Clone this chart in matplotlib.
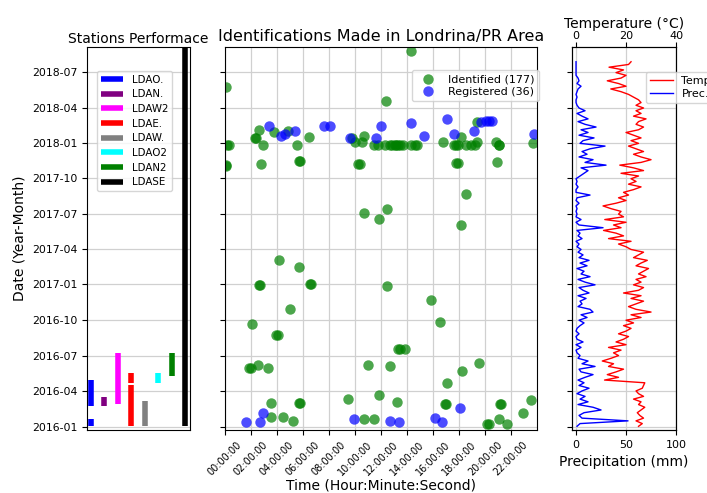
import numpy as np
import pandas as pd
import matplotlib
matplotlib.use('Agg')
import matplotlib.pyplot as plt
import matplotlib.dates as mdates
from matplotlib.ticker import FuncFormatter

# --- STATIONS (periods of operation) ---
stations = ['LDAO.', 'LDAN.', 'LDAW2', 'LDAE.', 'LDAW.', 'LDAO2', 'LDAN2', 'LDASE']
station_colors = ['blue', 'purple', 'magenta', 'red', 'gray', 'cyan', 'green', 'black']
station_periods = [
    [('2016-01-02', '2016-01-20'), ('2016-02-24', '2016-04-30')],
    [('2016-02-24', '2016-03-18')],
    [('2016-02-28', '2016-07-09')],
    [('2016-01-02', '2016-04-17'), ('2016-04-23', '2016-05-17')],
    [('2016-01-02', '2016-03-07')],
    [('2016-04-23', '2016-05-19')],
    [('2016-05-10', '2016-07-09')],
    [('2016-01-02', '2018-09-30')],
]

# --- IDENTIFICATIONS (date, time of day) ---
n_identified = 177
n_registered = 36
ident_dates = [
    '2018-05-23', '2017-12-27', '2017-12-27', '2017-11-03', '2017-11-05',
    '2018-01-14', '2018-01-14', '2018-02-02', '2017-12-26', '2017-11-08',
    '2018-01-29', '2018-01-31', '2017-12-26', '2017-11-14', '2017-11-14',
    '2018-01-16', '2018-01-14', '2018-01-02', '2018-01-02', '2018-01-18',
    '2017-11-07', '2017-11-07', '2017-12-26', '2017-07-04', '2017-06-18',
    '2018-08-24', '2018-04-18', '2017-12-27', '2017-12-27', '2017-12-27',
    '2017-12-27', '2017-12-27', '2017-12-27', '2017-12-27', '2017-12-27',
    '2017-12-27', '2017-12-27', '2017-12-27', '2017-12-27', '2018-01-02',
    '2017-12-26', '2017-12-26', '2017-12-26', '2018-01-16', '2017-12-27',
    '2017-12-27', '2017-12-27', '2018-01-02', '2018-02-22', '2018-01-02',
    '2017-12-25', '2017-12-25', '2017-11-13', '2017-11-10', '2017-11-10',
    '2017-08-21', '2017-07-14', '2017-06-03', '2017-12-30',
    '2017-03-05', '2017-02-15', '2016-12-30', '2016-12-30', '2017-01-03',
    '2017-01-03', '2016-10-29', '2016-09-20', '2016-08-23', '2016-08-23',
    '2016-05-30', '2016-05-30', '2016-06-07', '2016-05-31', '2016-03-01',
    '2016-03-01', '2016-03-01', '2016-01-26', '2016-01-26', '2016-01-15',
    '2016-03-13', '2016-06-09', '2016-03-23', '2016-01-21', '2016-01-21',
    '2016-12-29', '2016-11-21', '2016-09-27', '2016-07-19', '2016-07-19',
    '2016-07-19', '2016-06-06', '2016-03-04', '2016-04-23', '2016-05-24',
    '2016-06-13', '2016-02-28', '2016-02-28', '2016-02-28', '2016-02-28',
    '2016-01-07', '2016-01-07', '2016-01-20', '2016-01-09', '2016-02-05',
    '2016-03-10',
]
ident_times = [
    '00:05', '00:10', '00:18', '00:03', '00:03',
    '02:18', '02:24', '02:35', '02:55', '02:46',
    '03:44', '04:51', '05:32', '05:40', '05:48',
    '06:29', '09:46', '10:02', '10:32', '10:43',
    '10:14', '10:22', '11:26', '10:43', '11:52',
    '14:17', '12:25', '11:46', '12:17', '12:40',
    '12:50', '13:03', '13:10', '13:19', '13:30',
    '13:41', '14:20', '14:35', '14:47', '16:46',
    '17:35', '17:48', '17:55', '18:08', '18:34',
    '18:54', '19:12', '19:25', '19:25', '20:52',
    '21:03', '21:06', '20:57', '17:48', '17:54',
    '18:34', '12:28', '18:11', '23:41',
    '04:11', '05:40', '02:37', '02:43', '06:31',
    '06:37', '04:58', '02:03', '03:57', '04:03',
    '01:52', '02:02', '02:32', '03:17', '03:34',
    '05:40', '05:47', '03:34', '04:26', '05:13',
    '09:28', '10:58', '11:49', '10:43', '11:26',
    '12:28', '15:52', '16:34', '13:20', '13:26',
    '13:49', '12:40', '13:14', '17:06', '18:15',
    '19:31', '16:54', '17:00', '21:08', '21:14',
    '20:11', '20:17', '21:03', '21:43', '22:55',
    '23:34',
]
reg_dates = [
    '2018-02-13', '2018-01-19', '2018-01-23', '2018-01-31', '2018-02-13',
    '2018-02-13', '2018-01-14', '2018-01-14', '2018-02-13', '2018-02-21',
    '2018-01-19', '2018-03-02', '2018-01-23', '2018-01-31', '2018-02-24',
    '2018-02-25', '2018-02-25', '2018-02-25', '2018-01-23',
    '2016-01-13', '2016-01-13', '2016-02-06', '2016-01-21', '2016-01-15',
    '2016-01-13', '2016-01-23', '2016-01-13', '2016-02-18',
]
reg_times = [
    '03:25', '04:19', '04:35', '05:22', '07:35',
    '08:03', '09:35', '11:37', '12:02', '14:17',
    '15:17', '17:05', '17:37', '19:08', '19:43',
    '20:03', '20:19', '20:34', '23:46',
    '01:38', '02:40', '02:55', '09:57', '12:40',
    '13:22', '16:11', '16:43', '18:03',
]

# --- WEATHER (weekly readings from 2016-01-02) ---
weather_start = '2016-01-02'
temperature = [
    25, 26.5, 24, 27, 25.5, 24.5, 26, 27.5,
    25, 26, 23, 27, 25, 24, 26.5, 27, 27.5,
    11.4, 17, 12.5, 16, 19, 13, 15, 10.5, 14, 17,
    15, 18, 13, 20, 16, 19, 21, 17, 20, 22, 19,
    23, 20, 26, 22, 30, 24, 21,
    24, 27, 22, 26, 19, 25, 27, 23,
    26, 24, 28, 25, 27, 29, 24, 26, 28.5, 23, 25, 27, 22,
    20, 17, 22, 13, 19, 16, 11, 18, 15, 20, 11.5, 19, 17,
    18, 14, 10.8, 16, 20, 17, 21, 19, 23, 26, 21, 24, 22, 25,
    18, 27, 23, 17.5, 26, 30,
    26, 23, 27, 24, 21, 25,
    22, 26, 23, 20, 25, 27, 24,
    25, 28, 23, 26, 24, 27,
    24, 26, 25, 23,
    21, 18, 13.9, 20, 17, 12.5,
    18, 20, 16, 19, 13.2, 21, 22,
]
precipitation = [
    1, 4, 52, 6, 3, 8, 25, 17,
    2, 12, 4, 9, 1, 6, 13, 3, 8,
    2, 9, 17, 5, 3, 19, 6, 12, 2, 4,
    1, 0, 5, 0, 7, 1, 0, 3, 0, 1, 4,
    8, 3, 11, 5, 17, 14, 2,
    6, 4, 10, 2, 13, 7, 3, 19,
    9, 2, 14, 5, 8, 1, 11, 4, 13, 3, 7, 2, 5,
    1, 3, 0, 6, 2, 4, 1, 27, 3, 0, 5, 0, 1,
    0, 1, 0, 3, 0, 1, 14, 0, 0, 2, 0, 1, 0, 4,
    8, 12, 5, 30, 9, 17,
    3, 11, 6, 14, 29, 4,
    7, 18, 3, 12, 5, 20, 9,
    2, 12, 6, 1, 9, 3,
    1, 0, 0, 1,
    0, 1, 2, 5, 1, 3,
    2, 0, 0, 0, 0, 0, 0,
]


def to_num(dates):
    return mdates.date2num(pd.to_datetime(dates).to_pydatetime())


def to_hours(times):
    return [int(t[:2]) + int(t[3:]) / 60 for t in times]


weather_dates = to_num(pd.date_range(weather_start, periods=len(temperature), freq='7D'))

fig = plt.figure(figsize=(7.07, 4.93), dpi=100)
ax1 = fig.add_axes([0.123, 0.1278, 0.1457, 0.7769])
ax2 = fig.add_axes([0.3182, 0.1278, 0.4413, 0.7769], sharey=ax1)
ax3 = fig.add_axes([0.8091, 0.1278, 0.1471, 0.7769], sharey=ax1)

grid_kw = dict(color='#d0d0d0', linewidth=0.9)

# --- STATIONS PANEL ---
for i, (name, col, periods) in enumerate(zip(stations, station_colors, station_periods)):
    starts = to_num([p[0] for p in periods])
    ends = to_num([p[1] for p in periods])
    ax1.vlines([i] * len(periods), starts, ends, colors=col, linewidth=4, label=name)
ax1.set_xlim(-0.3, 7.35)
ax1.set_xticks([])
ax1.set_ylim(to_num(['2015-12-23 12:00'])[0], to_num(['2018-09-04'])[0])
ax1.yaxis.set_major_locator(mdates.MonthLocator(bymonth=[1, 4, 7, 10]))
ax1.yaxis.set_major_formatter(mdates.DateFormatter('%Y-%m'))
ax1.tick_params(axis='y', labelsize=7.8)
ax1.grid(axis='y', **grid_kw)
ax1.set_axisbelow(True)
ax1.set_ylabel('Date (Year-Month)', fontsize=10)
ax1.set_title('Stations Performace', fontsize=10, pad=3)
ax1.legend(loc='upper left', bbox_to_anchor=(0.095, 0.938), borderaxespad=0,
           fontsize=7.4, handlelength=2.2, labelspacing=0.45)

# --- IDENTIFICATIONS PANEL ---
ax2.plot(to_hours(ident_times), to_num(ident_dates), 'o', color='green', alpha=0.7,
         ms=7.5, mew=0, label=f'Identified ({n_identified})')
ax2.plot(to_hours(reg_times), to_num(reg_dates), 'o', color='blue', alpha=0.7,
         ms=7.5, mew=0, label=f'Registered ({n_registered})')
ax2.set_xlim(0, 24)
ax2.set_xticks(range(0, 24, 2))
ax2.xaxis.set_major_formatter(FuncFormatter(lambda v, p: '%02d:00:00' % int(round(v))))
ax2.tick_params(axis='x', labelsize=7, rotation=45)
ax2.tick_params(axis='y', labelleft=False)
ax2.grid(**grid_kw)
ax2.set_axisbelow(True)
ax2.set_xlabel('Time (Hour:Minute:Second)', fontsize=10, labelpad=1)
ax2.set_title('Identifications Made in Londrina/PR Area', fontsize=11.5, pad=4)
ax2.legend(loc='upper left', bbox_to_anchor=(0.6, 0.94), borderaxespad=0,
           fontsize=8, labelspacing=0.2)

# --- WEATHER PANEL ---
lp, = ax3.plot(precipitation, weather_dates, color='blue', linewidth=1)
ax3.set_xlim(-4, 100)
ax3.set_xticks([0, 50, 100])
ax3.tick_params(axis='x', labelsize=8)
ax3.tick_params(axis='y', labelleft=False)
ax3.grid(**grid_kw)
ax3.set_axisbelow(True)
ax3.set_xlabel('Precipitation (mm)', fontsize=10)
ax3t = ax3.twiny()
lt, = ax3t.plot(temperature, weather_dates, color='red', linewidth=1)
ax3t.set_xlim(-1.6, 40)
ax3t.set_xticks([0, 20, 40])
ax3t.tick_params(axis='x', labelsize=8, pad=1)
ax3t.set_xlabel('Temperature (°C)', fontsize=10, labelpad=2)
ax3t.legend([lt, lp], ['Temp.', 'Prec.'], loc='upper left', bbox_to_anchor=(0.71, 0.935),
            borderaxespad=0, fontsize=8, labelspacing=0.2)

fig.savefig('out.png', dpi=100)
